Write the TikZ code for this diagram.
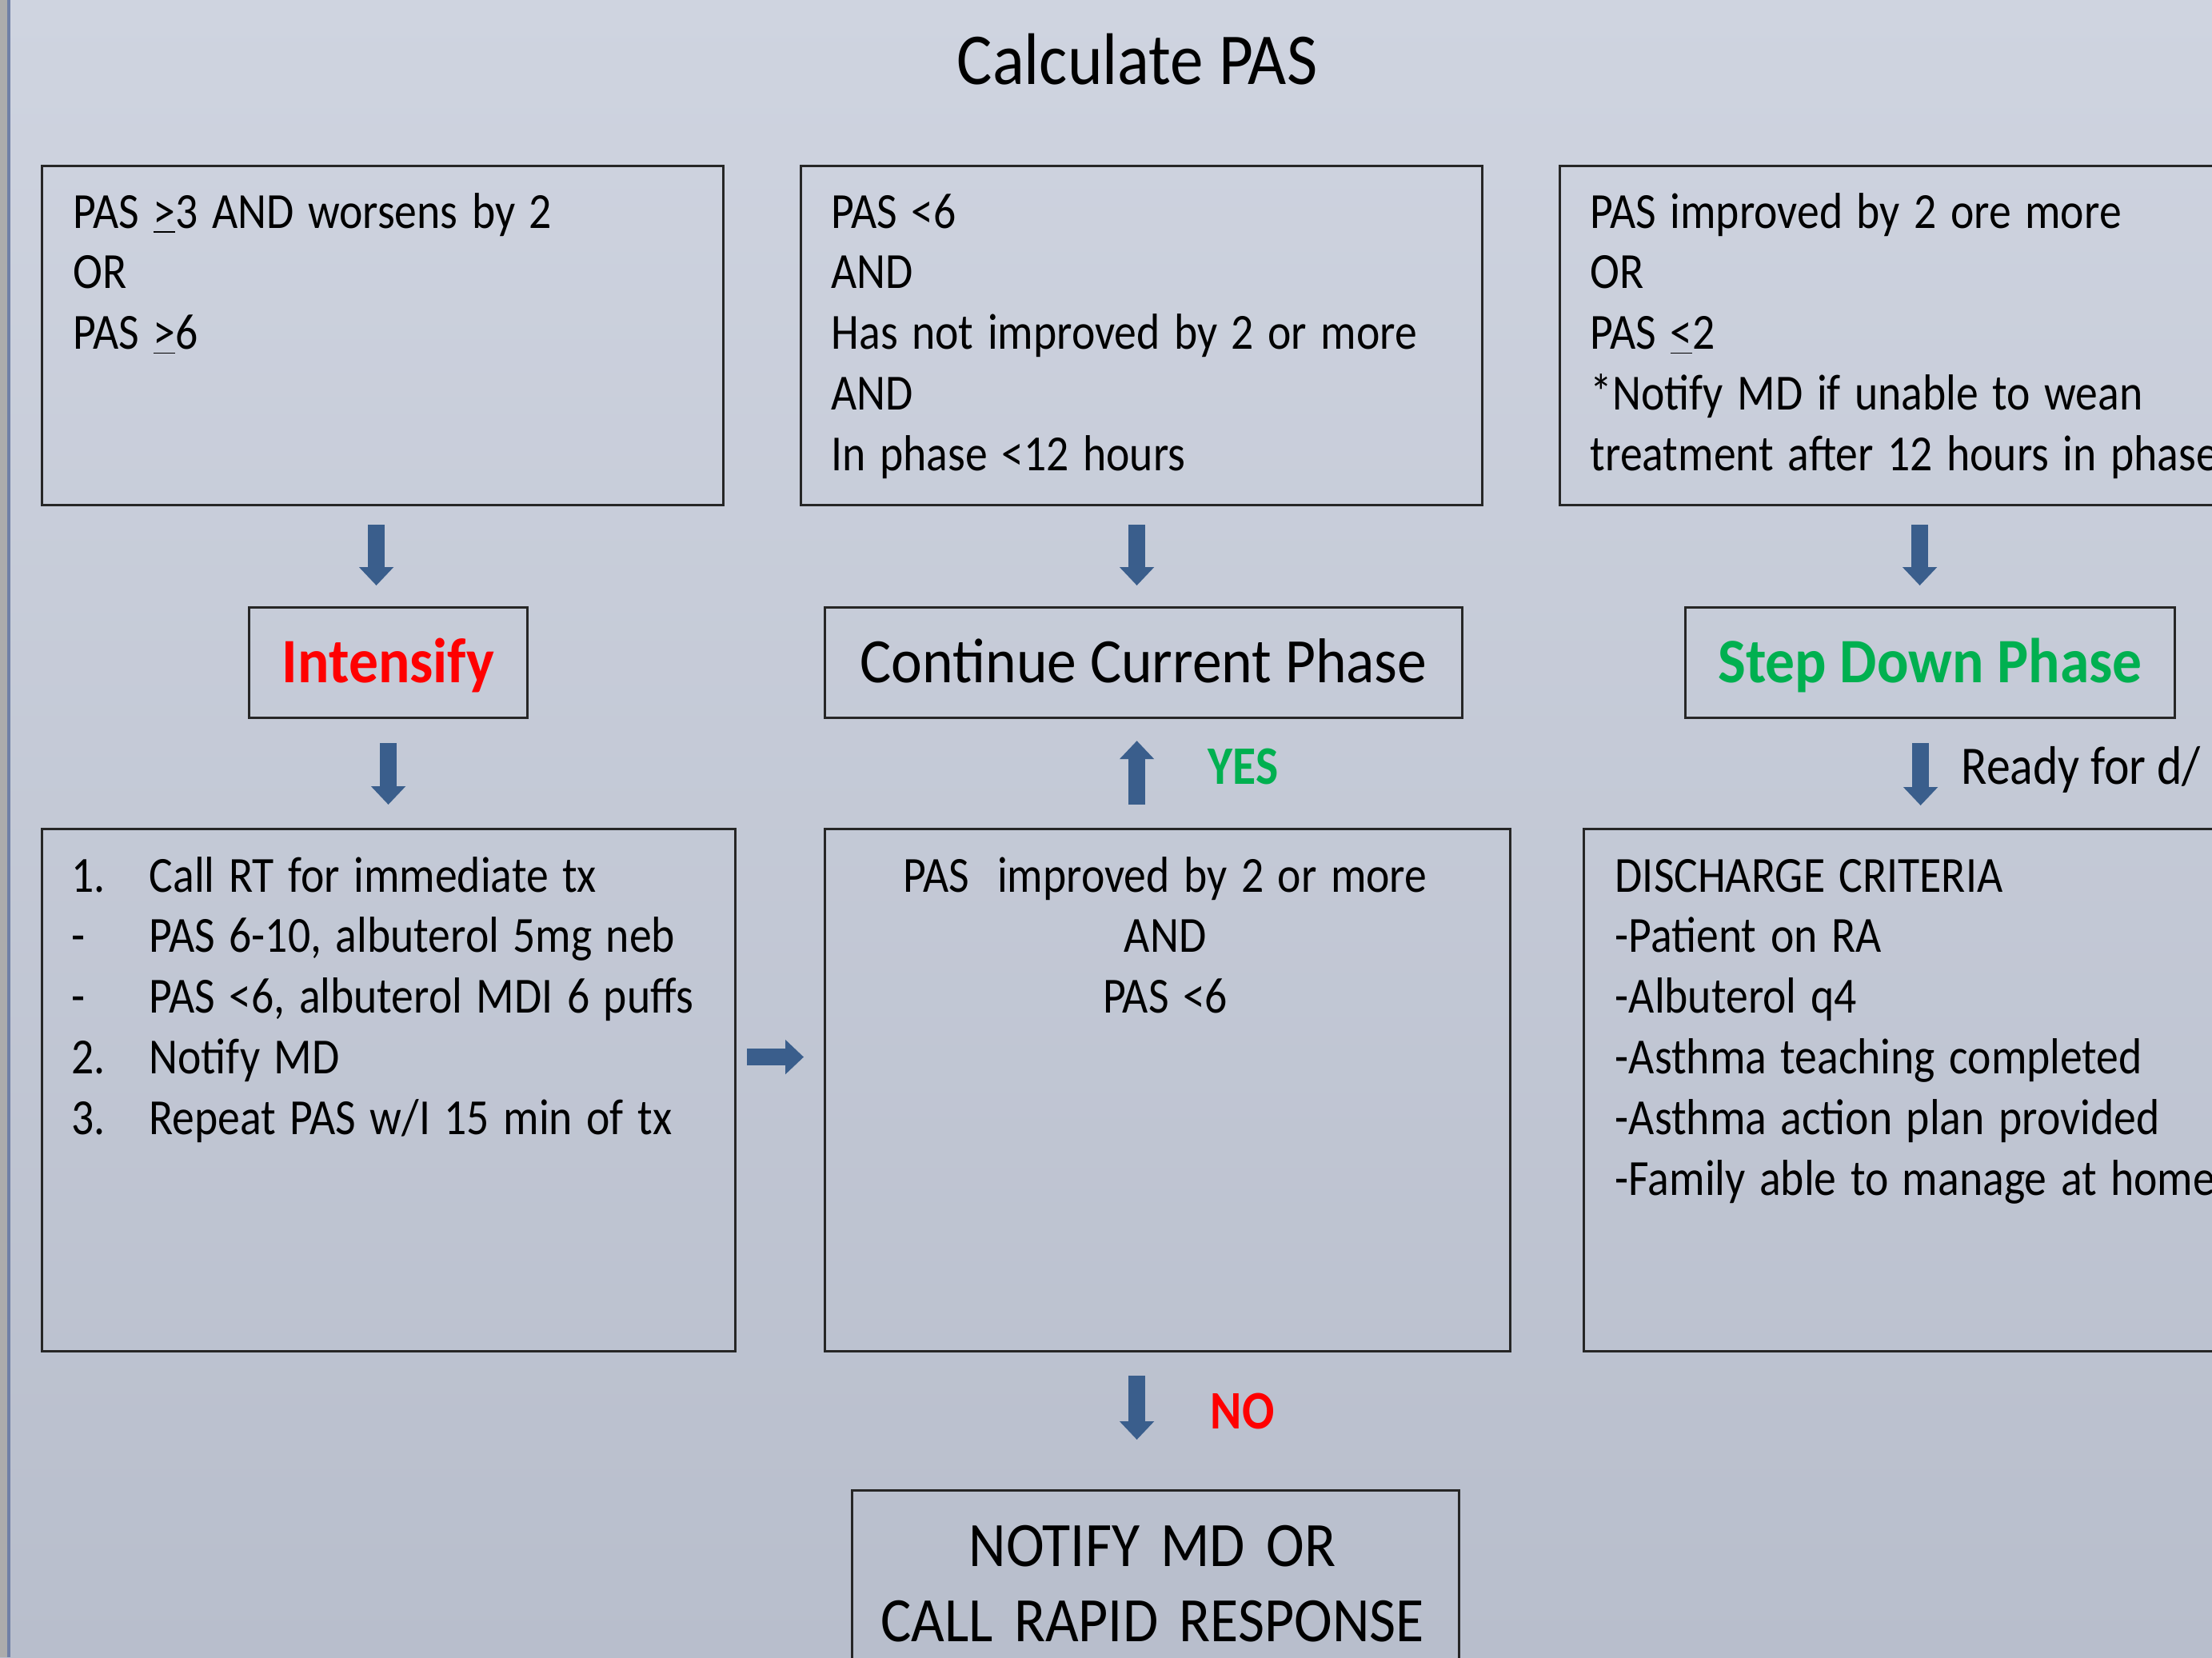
\documentclass[tikz,border=0pt]{standalone}
\usepackage{fontspec}
\setmainfont{Carlito}[FakeStretch=0.88]
\newfontfamily\labelfont{Carlito}[FakeStretch=0.93]
\newfontfamily\headfont{Carlito}[FakeStretch=0.91]
\usetikzlibrary{arrows.meta, positioning, calc}

\definecolor{pagetop}{RGB}{207,212,224}
\definecolor{pagebot}{RGB}{184,190,204}
\definecolor{arrowblue}{RGB}{58,94,140}
\definecolor{okgreen}{RGB}{0,176,80}
\definecolor{edgeblue}{RGB}{112,128,166}

\tikzset{
  box/.style={draw=black!85, line width=0.9pt, rectangle, inner sep=0pt, anchor=north west},
  boxtext/.style={anchor=base west, align=left, inner sep=0pt, text width=#1,
    font=\fontsize{18}{21.6}\selectfont,
    execute at begin node={\spaceskip=0.175cm\xspaceskip=0.175cm}},
  bigbox/.style={box, text height=0.50cm, text depth=0pt, font=\labelfont\fontsize{22.5}{27}\selectfont},
  blockarrow/.style={draw=arrowblue, line width=0.21cm,
    -{Triangle[width=0.42cm, length=0.23cm]}},
  answer/.style={anchor=west, inner sep=0pt, font=\fontsize{19.3}{23}\selectfont\bfseries},
}

\begin{document}
\begin{tikzpicture}
  \useasboundingbox (0,0) rectangle (27.66,-20.72);
  \clip (0,0) rectangle (27.66,-20.72);
  \shade[top color=pagetop, bottom color=pagebot] (0,0) rectangle (27.66,-20.72);
  \fill[gray!65] (0,0) rectangle (0.09,-20.72);
  \fill[edgeblue] (0.09,0) rectangle (0.13,-20.72);

  \node[anchor=base, font=\headfont\fontsize{26}{31}\selectfont] (title) at (14.22,-1.05) {Calculate PAS};

  % criteria row
  \node[box, minimum width=8.52cm, minimum height=4.24cm] (worse) at (0.51,-2.06) {};
  \node[box, minimum width=8.52cm, minimum height=4.24cm] (same) at (10.00,-2.06) {};
  \node[box, minimum width=9.60cm, minimum height=4.24cm] (better) at (19.49,-2.06) {};
  \node[boxtext=12cm] at (0.91,-2.85) {PAS \underline{>}3 AND worsens by 2\\OR\\PAS \underline{>}6};
  \node[boxtext=12cm] at (10.39,-2.85) {PAS <6\\AND\\Has not improved by 2 or more\\AND\\In phase <12 hours};
  \node[boxtext=12cm] at (19.88,-2.85) {PAS improved by 2 ore more\\OR\\PAS \underline{<}2\\{}*Notify MD if unable to wean\\treatment after 12 hours in phase};

  % phase row
  \node[bigbox, minimum width=3.48cm, minimum height=1.38cm, text=red] (intensify) at (3.10,-7.58) {\bfseries Intensify};
  \node[bigbox, minimum width=7.97cm, minimum height=1.38cm] (continue) at (10.30,-7.58) {Continue Current Phase};
  \node[bigbox, minimum width=6.12cm, minimum height=1.38cm, text=okgreen] (stepdown) at (21.06,-7.58) {\bfseries Step Down Phase};

  % action row
  \node[box, minimum width=8.67cm, minimum height=6.53cm] (steps) at (0.51,-10.35) {};
  \node[box, minimum width=8.57cm, minimum height=6.53cm] (pasok) at (10.30,-10.35) {};
  \node[box, minimum width=9.50cm, minimum height=6.53cm] (discharge) at (19.79,-10.35) {};
  \node[box, minimum width=7.59cm, minimum height=3.00cm] (notify) at (10.64,-18.62) {};
  \node[boxtext=12cm] at (0.89,-11.15) {\makebox[0.97cm][l]{1.}Call RT for immediate tx\\
    \makebox[0.97cm][l]{-}PAS 6-10, albuterol 5mg neb\\
    \makebox[0.97cm][l]{-}PAS <6, albuterol MDI 6 puffs\\
    \makebox[0.97cm][l]{2.}Notify MD\\
    \makebox[0.97cm][l]{3.}Repeat PAS w/I 15 min of tx};
  \node[boxtext=8.57cm, anchor=base, align=center] at (14.57,-11.15) {PAS\ \ improved by 2 or more\\AND\\PAS <6};
  \node[boxtext=12cm] at (20.19,-11.15) {DISCHARGE CRITERIA\\-Patient on RA\\-Albuterol q4\\-Asthma teaching completed\\-Asthma action plan provided\\-Family able to manage at home};
  \node[anchor=base, align=center, text width=7.59cm, inner sep=0pt,
    font=\headfont\fontsize{22.5}{27}\selectfont] at (14.41,-19.58) {NOTIFY MD OR\\CALL RAPID RESPONSE};

  % arrows
  \draw[blockarrow, shorten <=0.23cm, shorten >=0.26cm] ([xshift=-0.08cm]worse.south) -- ([xshift=-0.08cm]worse.south |- intensify.north);
  \draw[blockarrow, shorten <=0.30cm, shorten >=0.29cm] (intensify.south) -- (intensify.south |- steps.north);
  \draw[blockarrow, shorten <=0.23cm, shorten >=0.26cm] ([xshift=-0.06cm]same.south) -- ([xshift=-0.06cm]same.south |- continue.north);
  \draw[blockarrow, shorten <=0.29cm, shorten >=0.27cm] ([xshift=-0.085cm]continue.south |- pasok.north) -- ([xshift=-0.085cm]continue.south);
  \draw[blockarrow, shorten <=0.29cm, shorten >=0.62cm] ([xshift=-0.085cm]continue.south |- pasok.south) -- ([xshift=-0.085cm]continue.south |- notify.north);
  \draw[blockarrow, shorten <=0.23cm, shorten >=0.26cm] ([xshift=-0.13cm]stepdown.north |- better.south) -- ([xshift=-0.13cm]stepdown.north);
  \draw[blockarrow, shorten <=0.30cm, shorten >=0.28cm] ([xshift=-0.12cm]stepdown.south) -- ([xshift=-0.12cm]stepdown.south |- discharge.north);
  \draw[blockarrow, shorten <=0.13cm, shorten >=0.25cm] ([yshift=0.415cm]steps.east) -- ([yshift=0.415cm]steps.east -| pasok.west);

  \node[answer, text=okgreen] at (15.10,-9.585) {YES};
  \node[answer, text=red] at (15.13,-17.645) {NO};
  \node[anchor=base west, inner sep=0pt, font=\fontsize{19.3}{23}\selectfont] at (24.52,-9.80) {Ready for d/};
\end{tikzpicture}
\end{document}
